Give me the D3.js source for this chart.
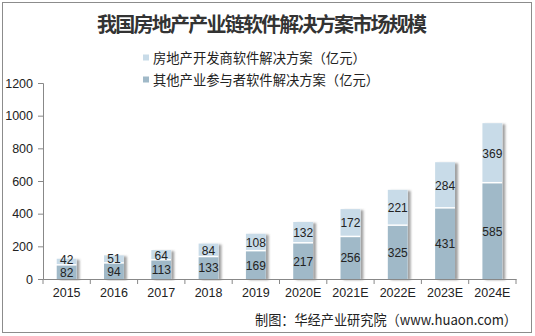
<!DOCTYPE html>
<html><head><meta charset="utf-8">
<script src="https://cdn.jsdelivr.net/npm/d3@7"></script>
<style>
body{margin:0;background:#fff;}
svg{display:block;font-family:Arial,"Liberation Sans","Noto Sans CJK SC",sans-serif;}
</style></head><body>
<svg id="c" width="535" height="336"></svg>
<script>
const categories = ["2015","2016","2017","2018","2019","2020E","2021E","2022E","2023E","2024E"];
const developerValues = [42,51,64,84,108,132,172,221,284,369];
const otherValues = [82,94,113,133,169,217,256,325,431,585];
const yTicks = [0,200,400,600,800,1000,1200];
const seriesNames = ["房地产开发商软件解决方案（亿元）","其他产业参与者软件解决方案（亿元）"];
const title = "我国房地产产业链软件解决方案市场规模";
const source = "制图：华经产业研究院（www.huaon.com）";

const svg = d3.select("#c");
const colTop = "#c8dbe8", colBot = "#a0b9c8";

// frame
svg.append("rect").attr("x",2.5).attr("y",2.5).attr("width",529).attr("height",330)
  .attr("fill","#fff").attr("stroke","#8c8c8c").attr("stroke-width",1);

const defs = svg.append("defs");
const f = defs.append("filter").attr("id","sh").attr("x","-20%").attr("y","-5%").attr("width","160%").attr("height","110%");
f.append("feDropShadow").attr("dx",3).attr("dy",1).attr("stdDeviation",1.3).attr("flood-color","#555").attr("flood-opacity",0.55);

const x = d3.scaleBand().domain(categories).range([43,516]).paddingInner(0.58).paddingOuter(0.29);
const y = d3.scaleLinear().domain([0,1200]).range([279,83]);

// title
svg.append("text").attr("x",97).attr("y",32)
  .attr("font-family","'Noto Sans CJK SC',sans-serif").attr("font-weight","bold")
  .attr("font-size",20).attr("textLength",330).attr("lengthAdjust","spacing")
  .attr("fill","#333").text(title);

// legend
const lg = svg.append("g");
[[colTop,58],[colBot,80]].forEach((d,i)=>{
  lg.append("rect").attr("x",143).attr("y",d[1]-3.5).attr("width",6).attr("height",6).attr("fill",d[0]);
  lg.append("text").attr("x",153).attr("y",d[1]+4.5).attr("font-size",13.3)
    .attr("font-family","'Noto Sans CJK SC',sans-serif").attr("fill","#222").text(seriesNames[i]);
});

// bars
const data = categories.map((c,i)=>({c, a:otherValues[i], b:developerValues[i]}));
const bars = svg.append("g");
data.forEach(d=>{
  const g = bars.append("g");
  const bx = x(d.c), bw = x.bandwidth();
  g.append("rect").attr("x",bx).attr("y",y(d.a+d.b)).attr("width",bw).attr("height",y(0)-y(d.a+d.b))
    .attr("fill","#fff").attr("filter","url(#sh)");
  g.append("rect").attr("x",bx).attr("y",y(d.a)).attr("width",bw).attr("height",y(0)-y(d.a)).attr("fill",colBot);
  g.append("rect").attr("x",bx).attr("y",y(d.a+d.b)).attr("width",bw).attr("height",y(d.a)-y(d.a+d.b)-1.5).attr("fill",colTop);
});

// axes
const ya = svg.append("g").attr("transform","translate(43,0)")
  .call(d3.axisLeft(y).tickValues(yTicks).tickSize(5).tickPadding(5).tickFormat(d3.format("d")));
ya.select(".domain").attr("stroke","#888");
ya.selectAll(".tick line").attr("stroke","#888");
ya.selectAll("text").attr("font-size",12.5).attr("fill","#222");

const xa = svg.append("g").attr("transform","translate(0,279)")
  .call(d3.axisBottom(x).tickSize(0).tickPadding(9));
xa.select(".domain").attr("stroke","#888");
xa.selectAll("text").attr("font-size",12.5).attr("fill","#222");
const step = x.step();
xa.selectAll(".sep").data(d3.range(categories.length+1)).enter().append("line")
  .attr("x1",i=>43+i*step).attr("x2",i=>43+i*step).attr("y1",0).attr("y2",5).attr("stroke","#888");

// value labels
const lbl = svg.append("g").attr("font-size",12).attr("fill","#222").attr("text-anchor","middle");
data.forEach(d=>{
  const cx = x(d.c)+x.bandwidth()/2;
  const yb = (y(d.a)+y(0))/2;
  let yt = (y(d.a+d.b)+y(d.a))/2;
  if (yb - yt < 13) yt = yb - 13;
  lbl.append("text").attr("x",cx).attr("y",yb).attr("dy","0.36em").text(d.a);
  lbl.append("text").attr("x",cx).attr("y",yt).attr("dy","0.36em").text(d.b);
});

// source
svg.append("text").attr("x",255).attr("y",325).attr("font-size",14)
  .attr("textLength",262).attr("lengthAdjust","spacingAndGlyphs")
  .attr("font-family","'Noto Sans CJK SC',sans-serif").attr("fill","#222").text(source);
</script></body></html>
